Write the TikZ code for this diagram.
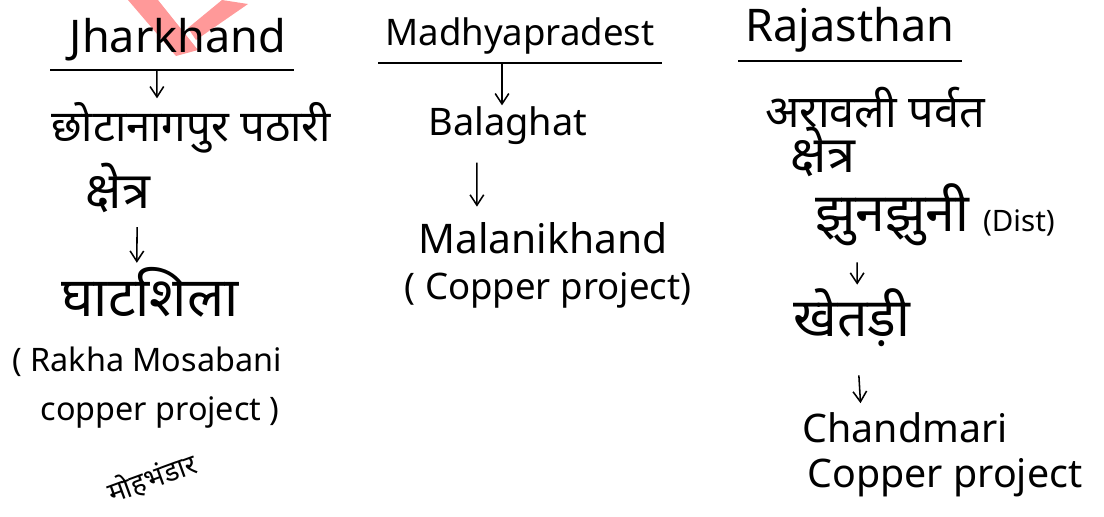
\documentclass[tikz,border=0pt]{standalone}
\usepackage{fontspec}
\setmainfont{Noto Sans}
\newfontfamily\deva[Script=Devanagari]{Noto Sans}
\usetikzlibrary{arrows.meta, positioning}
\newcommand{\fs}[1]{\fontsize{#1}{#1}\selectfont}
\tikzstyle{head} = [font=\fs{31}, inner xsep=5pt, inner ysep=6pt]
\tikzstyle{hindi} = [font=\deva\fs{31}, inner sep=0pt]
\tikzstyle{entry} = [font=\fs{23}, inner sep=1pt]
\tikzstyle{arrow} = [line width=1.1pt, -{Straight Barb[length=2.6mm, width=3.4mm]}]
\tikzstyle{rule} = [line width=1.1pt]
\tikzstyle{wmark} = [fill=red!40, draw=none]

\begin{document}
\begin{tikzpicture}[x=0.025cm, y=-0.025cm]
    \useasboundingbox (0,0) rectangle (1104,516);
    % watermark corner
    \fill[wmark] (128,0) -- (158,0) -- (198,50) -- (176,56) -- cycle;
    \fill[wmark] (222,0) -- (248,4) -- (196,40) -- (188,28) -- cycle;
    % Jharkhand
    \node[head, font=\fs{32}] (jh) at (178,40) {Jharkhand};
    \node[hindi] (chota) at (191,128) {छोटानागपुर पठारी};
    \node[hindi, font=\deva\fs{36}] (ksh1) at (118,188) {क्षेत्र};
    \node[hindi, font=\deva\fs{39}] (ghat) at (150,292) {घाटशिला};
    \node[entry] (rakha) at (147,362) {( Rakha Mosabani};
    \node[entry] (rcop) at (160,412) {copper project )};
    \node[hindi, font=\deva\fs{20}, rotate=20] (mau) at (152,478) {मोहभंडार};
    \draw[rule] ([xshift=-0.3cm]jh.south west) -- (jh.south east);
    \draw[arrow] ([xshift=-0.53cm]jh.south) -- ([xshift=-0.85cm, yshift=0.1cm]chota.north);
    \draw[arrow, shorten <=0.35cm, shorten >=0.1cm] ([xshift=0.48cm]ksh1.south) -- ([xshift=-0.33cm]ghat.north);
    % Madhyapradest
    \node[head, font=\fs{26}] (mp) at (520,36) {Madhyapradest};
    \node[entry, font=\fs{27}] (bal) at (508,126) {Balaghat};
    \node[entry, font=\fs{29}] (mal) at (543,238) {Malanikhand};
    \node[entry, font=\fs{26}] (mcop) at (548,290) {( Copper project)};
    \draw[rule] (mp.south west) -- (mp.south east);
    \draw[arrow] ([xshift=-0.45cm]mp.south) -- ([xshift=-0.15cm]bal.north);
    \draw[arrow, shorten <=0.4cm, shorten >=0.35cm] ([xshift=-0.78cm]bal.south) -- ([xshift=-1.65cm]mal.north);
    % Rajasthan
    \node[head, font=\fs{32}] (raj) at (850,30) {Rajasthan};
    \node[hindi, font=\deva\fs{32}] (arav) at (875,108) {अरावली पर्वत};
    \node[hindi, font=\deva\fs{36}] (ksh2) at (823,152) {क्षेत्र};
    \node[hindi, font=\deva\fs{38}] (jhun) at (935,215) {झुनझुनी \rmfamily\fs{21}(Dist)};
    \node[hindi, font=\deva\fs{38}] (khet) at (852,318) {खेतड़ी};
    \node[entry, font=\fs{28}] (chand) at (905,428) {Chandmari};
    \node[entry, font=\fs{28}] (ccop) at (945,478) {Copper project};
    \draw[rule] (raj.south west) -- (raj.south east);
    \draw[arrow, shorten <=0.4cm, shorten >=0.1cm] ([xshift=-1.95cm]jhun.south) -- ([xshift=0.13cm]khet.north);
    \draw[arrow, shorten <=0.7cm, shorten >=0.2cm] ([xshift=0.13cm]khet.south) -- ([xshift=-1.1cm]chand.north);
\end{tikzpicture}
\end{document}
